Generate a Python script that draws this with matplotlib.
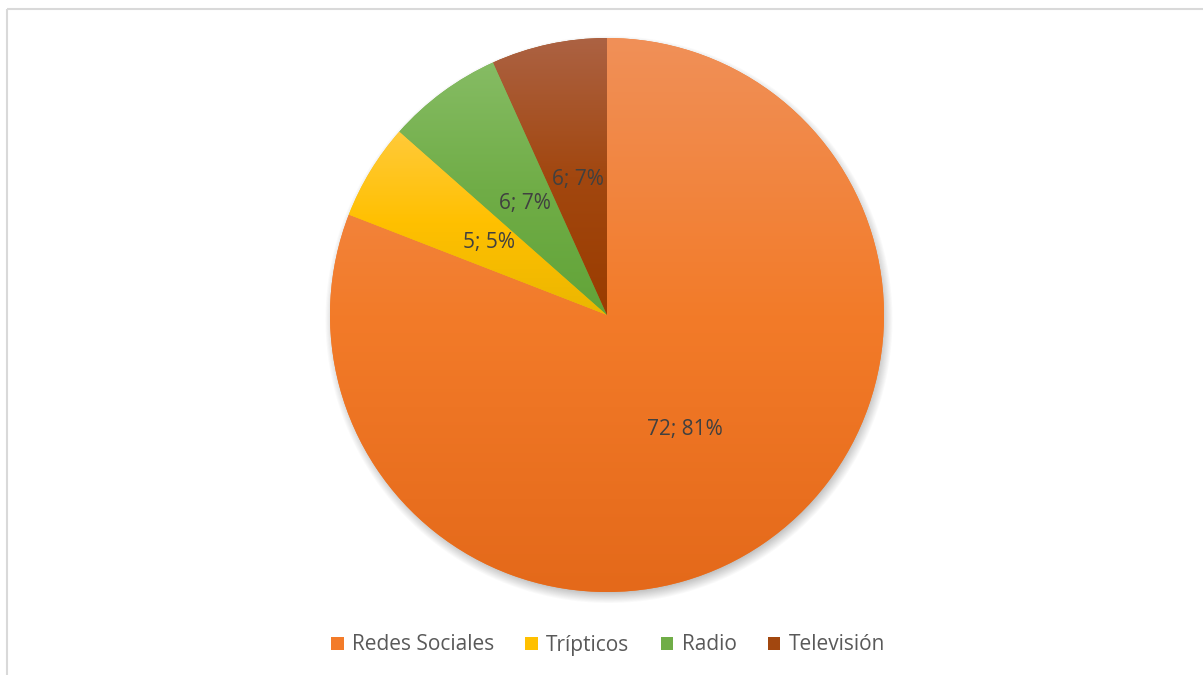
"""Pie chart of information channels (Redes Sociales, Trípticos, Radio, Televisión)."""

import matplotlib
matplotlib.use("Agg")
import matplotlib.pyplot as plt
import numpy as np
from matplotlib.colors import to_rgb
from matplotlib.patches import Rectangle

W, H = 1203, 675

categories = ["Redes Sociales", "Trípticos", "Radio", "Televisión"]
values = [72, 5, 6, 6]
percent_labels = [81, 5, 7, 7]

# three-stop vertical gradient per slice: top, middle, bottom
top_colors = ["#F09058", "#FFCA3A", "#86BC64", "#AC6243"]
mid_colors = ["#F37B29", "#FFC000", "#70AD47", "#A2470F"]
bottom_colors = ["#E4691A", "#EBB600", "#62A438", "#9A3C00"]

CENTER = (607, H - 315)
RADIUS = 277

plt.rcParams["font.family"] = ["Open Sans", "DejaVu Sans"]

fig = plt.figure(figsize=(W / 100, H / 100), dpi=100)
ax = fig.add_axes([0, 0, 1, 1])

# soft drop shadow under the pie
yy, xx = np.mgrid[0:H, 0:W]
d = np.hypot(xx - (CENTER[0] + 1.5), (H - yy) - (CENTER[1] - 4))
blur = 7.0
shadow_a = np.clip((RADIUS + blur - d) / (2 * blur), 0, 1) * 0.45
shadow = np.zeros((H, W, 4))
shadow[..., :3] = 0.35
shadow[..., 3] = shadow_a
ax.imshow(shadow, extent=(0, W, 0, H), origin="upper", zorder=0, interpolation="bilinear")

wedges, _ = ax.pie(
    values, colors=mid_colors, startangle=90, counterclock=False,
    center=CENTER, radius=RADIUS, frame=True,
    wedgeprops=dict(linewidth=0, zorder=1),
)

# vertical gradient fill per slice, clipped to the wedge
t = np.linspace(0, 1, 256)[:, None]
for w, c_top, c_mid, c_bot in zip(wedges, top_colors, mid_colors, bottom_colors):
    ext = w.get_path().get_extents()
    a, b, c = (np.array(to_rgb(x)) for x in (c_top, c_mid, c_bot))
    grad = np.where(t < 0.5, (1 - 2 * t) * a + 2 * t * b, (2 - 2 * t) * b + (2 * t - 1) * c)
    grad = grad[:, None, :].repeat(2, axis=1)
    im = ax.imshow(grad, extent=(ext.x0, ext.x1, ext.y0, ext.y1), origin="upper",
                   zorder=2, interpolation="bilinear", aspect="auto")
    im.set_clip_path(w)

# data labels: "value; percent%" at half radius on the slice bisector
for w, v, p in zip(wedges, values, percent_labels):
    mid = np.deg2rad((w.theta1 + w.theta2) / 2)
    x = CENTER[0] + 0.5 * RADIUS * np.cos(mid)
    y = CENTER[1] + 0.5 * RADIUS * np.sin(mid)
    ax.text(x, y, f"{v}; {p}%", ha="center", va="center", fontsize=15,
            color="#404040", zorder=5)

handles = [Rectangle((0, 0), 1, 1, facecolor=c, edgecolor="none") for c in mid_colors]
leg = fig.legend(
    handles, categories, loc="center", bbox_to_anchor=(608 / W, 1 - 645 / H),
    ncol=4, frameon=False, fontsize=15, handlelength=0.6, handleheight=0.6,
    handletextpad=0.4, columnspacing=1.5,
)
for txt in leg.get_texts():
    txt.set_color("#595959")

# chart area border
ax.plot([7, 7], [0, H - 9], color="#D9D9D9", lw=1.5, zorder=6, solid_capstyle="butt")
ax.plot([7, W], [H - 9, H - 9], color="#D9D9D9", lw=1.5, zorder=6, solid_capstyle="butt")

ax.set_xlim(0, W)
ax.set_ylim(0, H)
ax.set_aspect("equal")
ax.axis("off")

fig.savefig("out.png", dpi=100)
